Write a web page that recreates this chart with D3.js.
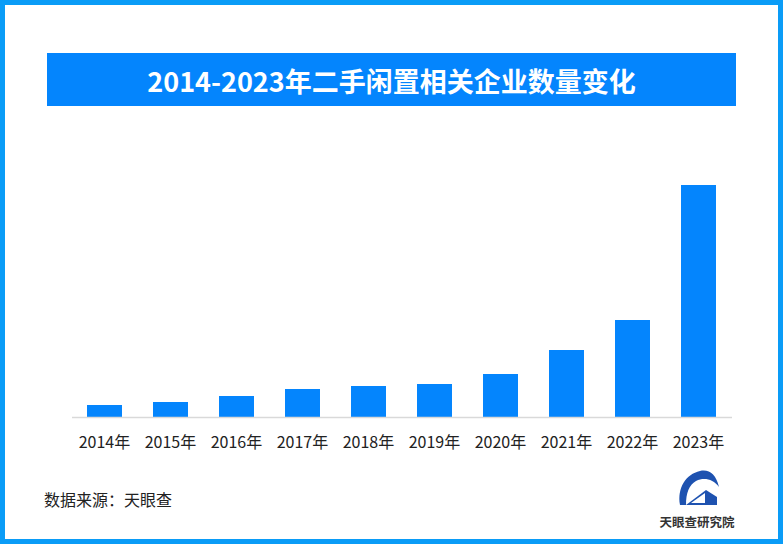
<!DOCTYPE html>
<html><head><meta charset="utf-8">
<script src="https://cdn.jsdelivr.net/npm/d3@7"></script>
<style>
html,body{margin:0;padding:0;background:#fff;}
svg{display:block;font-family:"Noto Sans CJK SC","Noto Sans",sans-serif;}
</style></head>
<body>
<svg id="c" width="783" height="544"></svg>
<script>
const title = "2014-2023年二手闲置相关企业数量变化";
const categories = ["2014年","2015年","2016年","2017年","2018年","2019年","2020年","2021年","2022年","2023年"];
const values = [1.2,1.5,2.1,2.8,3.1,3.3,4.3,6.7,9.7,23.2];
const source = "数据来源：天眼查";
const logoText = "天眼查研究院";

const W = 783, H = 544;
const svg = d3.select("#c");
// frame
svg.append("rect").attr("x",2.5).attr("y",2.5).attr("width",W-5).attr("height",H-5)
  .attr("fill","#fff").attr("stroke","#0a9cf7").attr("stroke-width",5);
// title banner
svg.append("rect").attr("x",47).attr("y",53).attr("width",689).attr("height",53).attr("fill","#0485fd");
svg.append("text").attr("x",391.5).attr("y",80).attr("text-anchor","middle").attr("dominant-baseline","central")
  .attr("fill","#fff").attr("font-size",27).attr("font-weight","bold").text(title);

const x = d3.scaleBand().domain(categories).range([71.5,731.5]).paddingInner(0.47).paddingOuter(0.235);
const y = d3.scaleLinear().domain([0,23.2]).range([417,185]);

svg.append("g").selectAll("rect").data(values).join("rect")
  .attr("x",(d,i)=>x(categories[i])).attr("width",x.bandwidth())
  .attr("y",d=>y(d)).attr("height",d=>y(0)-y(d)).attr("fill","#0485fd");

const ax = svg.append("g").attr("transform",`translate(0,${y(0)})`)
  .call(d3.axisBottom(x).tickSize(0).tickPadding(20));
ax.select(".domain").attr("stroke","#d9d9d9").attr("stroke-width",1.5);
ax.selectAll("text").attr("font-size",16).attr("fill","#222")
  .attr("font-family","'Noto Sans CJK SC','Noto Sans',sans-serif");

svg.append("text").attr("x",44).attr("y",506).attr("font-size",16).attr("fill","#222").text(source);

// logo
const g = svg.append("g");
g.append("path").attr("d","M680,505 C677,488 686,474 700,471 C709,469 716,474 719,487 C713,479 704,477 696,481 C689,485 686,493 686,505 Z").attr("fill","#1e52b0");
g.append("path").attr("d","M686,505 L706,490 L717,497 L717,505 Z").attr("fill","#1e52b0");
g.append("path").attr("d","M691,503 L705,493 L705,503 Z").attr("fill","#fff");
g.append("text").attr("x",697).attr("y",527).attr("text-anchor","middle").attr("font-size",12.5)
  .attr("font-weight","bold").attr("fill","#333").text(logoText);
</script>
</body></html>
